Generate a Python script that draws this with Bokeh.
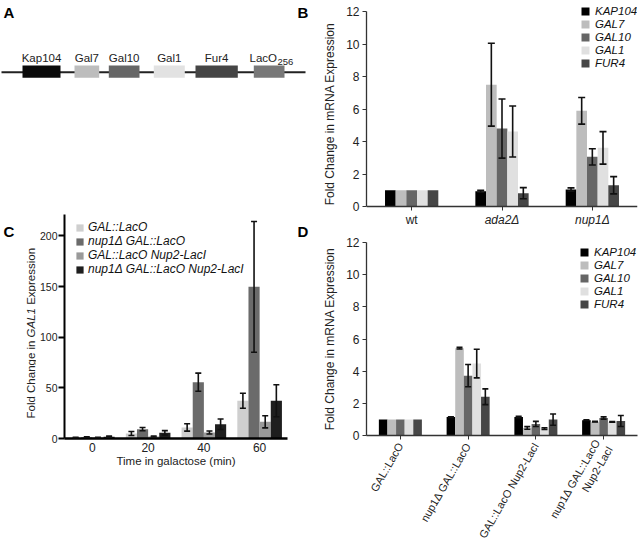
import math
from bokeh.plotting import figure
from bokeh.models import (ColumnDataSource, Whisker, TeeHead, Legend, LegendItem,
                          FixedTicker, Range1d)
from bokeh.layouts import row, column
from bokeh.embed import file_html
from bokeh.resources import INLINE
from bokeh.core.properties import value

FONT = "Liberation Sans"
INK = "#222222"

# ---------------- Panel A: gene map (arbitrary map units) ----------------
map_genes = ["Kap104", "Gal7", "Gal10", "Gal1", "Fur4"]
map_start = [22.0, 74.0, 108.3, 153.3, 195.0]
map_end = [60.0, 98.7, 139.0, 184.3, 237.3]
map_colors = ["#0a0a0a", "#bdbdbd", "#666666", "#e2e2e2", "#454545"]
laco_start = [253.3]
laco_end = [284.0]
laco_color = "#787878"
map_span = [1.0, 305.0]

# ---------------- Panel B ----------------
b_strains = ["wt", "ada2Δ", "nup1Δ"]
b_strain_italic = [False, True, True]
genes = ["KAP104", "GAL7", "GAL10", "GAL1", "FUR4"]
gene_colors = ["#000000", "#bdbdbd", "#666666", "#e0e0e0", "#464646"]
b_kap104 = [1.0, 0.94, 1.05]
b_gal7 = [1.0, 7.5, 5.89]
b_gal10 = [1.0, 4.8, 3.06]
b_gal1 = [1.0, 4.62, 3.61]
b_fur4 = [1.0, 0.82, 1.31]
b_kap104_err = [0.0, 0.06, 0.10]
b_gal7_err = [0.0, 2.55, 0.82]
b_gal10_err = [0.0, 1.82, 0.50]
b_gal1_err = [0.0, 1.57, 1.00]
b_fur4_err = [0.0, 0.34, 0.53]
b_ticks = [0, 2, 4, 6, 8, 10, 12]

# ---------------- Panel C ----------------
c_times = ["0", "20", "40", "60"]
c_strains = ["GAL::LacO", "nup1\u0394 GAL::LacO", "GAL::LacO Nup2-LacI",
             "nup1\u0394 GAL::LacO Nup2-LacI"]
c_colors = ["#cfcfcf", "#6b6b6b", "#9a9a9a", "#1e1e1e"]
c_laco = [0.8, 4.9, 10.9, 37.2]
c_nup1_laco = [1.2, 9.2, 55.6, 149.7]
c_laco_nup2 = [0.9, 2.0, 5.9, 16.5]
c_nup1_laco_nup2 = [1.8, 5.6, 14.1, 37.2]
c_laco_err = [0.3, 2.0, 3.6, 7.4]
c_nup1_laco_err = [0.4, 1.6, 8.9, 64.5]
c_laco_nup2_err = [0.3, 0.5, 1.5, 6.0]
c_nup1_laco_nup2_err = [0.5, 2.2, 5.2, 15.8]
c_ticks = [0, 50, 100, 150, 200]

# ---------------- Panel D ----------------
d_strains = ["GAL::LacO", "nup1\u0394 GAL::LacO", "GAL::LacO Nup2-LacI",
             "nup1\u0394 GAL::LacO\nNup2-LacI"]
d_kap104 = [1.0, 1.15, 1.15, 0.95]
d_gal7 = [1.0, 5.43, 0.47, 0.86]
d_gal10 = [1.0, 3.72, 0.72, 1.09]
d_gal1 = [1.0, 4.47, 0.43, 0.84]
d_fur4 = [1.0, 2.41, 0.99, 0.90]
d_kap104_err = [0.0, 0.02, 0.04, 0.02]
d_gal7_err = [0.0, 0.05, 0.08, 0.02]
d_gal10_err = [0.0, 0.69, 0.16, 0.07]
d_gal1_err = [0.0, 0.89, 0.05, 0.02]
d_fur4_err = [0.0, 0.49, 0.35, 0.34]


def style_common(p):
    p.outline_line_color = None
    p.xgrid.visible = False
    p.ygrid.visible = False
    p.background_fill_color = "white"
    p.border_fill_color = "white"


def fig(w, h, xr, yr, l, r, t, b, axes=True):
    kw = dict(width=w, height=h, x_range=xr, y_range=yr, min_border_left=l,
              min_border_right=r, min_border_top=t, min_border_bottom=b,
              output_backend="svg", toolbar_location=None, frame_align=False)
    if not axes:
        kw.update(x_axis_location=None, y_axis_location=None)
    p = figure(**kw)
    style_common(p)
    return p


def add_bars(p, n_groups, series, errs, colors, bw, cap):
    k = len(series)
    renderers = []
    for j in range(k):
        xs = [i + 0.5 + (j - (k - 1) / 2.0) * bw for i in range(n_groups)]
        src = ColumnDataSource(dict(x=xs, top=series[j]))
        r = p.vbar(x="x", top="top", width=bw, bottom=0, source=src,
                   fill_color=colors[j], line_color=None)
        renderers.append(r)
        wx, up, lo = [], [], []
        for xi, m, e in zip(xs, series[j], errs[j]):
            if e > 0:
                wx.append(xi)
                up.append(m + e)
                lo.append(m - e)
        if wx:
            wsrc = ColumnDataSource(dict(x=wx, upper=up, lower=lo))
            w = Whisker(base="x", upper="upper", lower="lower", source=wsrc,
                        dimension="height", line_color="#111111", line_width=1.6,
                        upper_head=TeeHead(size=cap, line_color="#111111", line_width=1.6),
                        lower_head=TeeHead(size=cap, line_color="#111111", line_width=1.6),
                        level="annotation")
            p.add_layout(w)
    return renderers


def make_legend(renderers, labels, loc, glyph, size, pitch, standoff, style="italic"):
    items = [LegendItem(label=l, renderers=[r]) for l, r in zip(labels, renderers)]
    lg = Legend(items=items, location=loc, orientation="vertical",
                border_line_color=None, background_fill_alpha=0,
                padding=0, margin=0, spacing=0,
                glyph_width=glyph, glyph_height=glyph, label_height=pitch,
                label_standoff=standoff, label_text_font=FONT,
                label_text_font_size=size, label_text_font_style=style,
                label_text_color="#111111", label_text_baseline="middle")
    return lg


# ======================= A (gene map) =======================
pA = fig(320, 205, Range1d(0, 320), Range1d(205, 0), 0, 0, 0, 0, axes=False)
pA.line(x=map_span, y=[71.7, 71.7], line_color=INK, line_width=2)
pA.quad(left=map_start, right=map_end, top=[65] * len(map_start), bottom=[77.3] * len(map_start),
        fill_color=map_colors, line_color=None)
pA.quad(left=laco_start, right=laco_end, top=[65], bottom=[77.3],
        fill_color=laco_color, line_color=None)
pA.text(x=[(a + b) / 2 for a, b in zip(map_start, map_end)], y=[57] * len(map_start),
        text=map_genes, text_font=value(FONT), text_font_size="11.5px",
        text_align="center", text_baseline="middle", text_color=INK)
pA.text(x=[276.5], y=[57], text=["LacO"], text_font=value(FONT), text_font_size="11.5px",
        text_align="right", text_baseline="middle", text_color=INK)
pA.text(x=[277.0], y=[61.5], text=["256"], text_font=value(FONT), text_font_size="9.5px",
        text_align="left", text_baseline="middle", text_color=INK)
pA.text(x=[3, 297], y=[3, 3], text=["A", "B"], text_font=value(FONT), text_font_size="15px",
        text_font_style="bold", text_baseline="top", text_align="left", text_color="black")

# ======================= C (with side strips for titles) =======================
pCy = fig(36, 341, Range1d(0, 36), Range1d(546, 205), 0, 0, 0, 0, axes=False)
pCy.text(x=[3], y=[222], text=["C"], text_font=value(FONT), text_font_size="15px",
         text_font_style="bold", text_baseline="top", text_align="left", text_color="black")
ylab_parts = ["Fold Change in", "GAL1", "Expression"]
ylab_styles = ["normal", "italic", "normal"]
ylab_start = [418.0, 336.9, 304.3]
for t, st, y0 in zip(ylab_parts, ylab_styles, ylab_start):
    pCy.text(x=[30], y=[y0], text=[t], angle=math.pi / 2, text_font=value(FONT),
             text_font_size="11.5px", text_font_style=st, text_align="left",
             text_baseline="middle", text_color=INK)

pCd = fig(28, 341, Range1d(292, 320), Range1d(546, 205), 0, 0, 0, 0, axes=False)
pCd.text(x=[297], y=[222], text=["D"], text_font=value(FONT), text_font_size="15px",
         text_font_style="bold", text_baseline="top", text_align="left", text_color="black")

# frame reaches above the axis top so the legend is fully inside; y axis bounded to 0..221
pC = fig(256, 341, Range1d(0, 4), Range1d(0, 230), 27, 5, 0, 108)
rC = add_bars(pC, 4, [c_laco, c_nup1_laco, c_laco_nup2, c_nup1_laco_nup2],
              [c_laco_err, c_nup1_laco_err, c_laco_nup2_err, c_nup1_laco_nup2_err],
              c_colors, 0.2, 6)
pC.yaxis.ticker = FixedTicker(ticks=c_ticks)
pC.yaxis.bounds = (0, 221.5)
pC.xaxis.ticker = FixedTicker(ticks=[0.5, 1.5, 2.5, 3.5])
pC.xaxis.major_label_overrides = {0.5 + i: t for i, t in enumerate(c_times)}
pC.xaxis.axis_label = "Time in galactose (min)"
pC.add_layout(make_legend(rC, c_strains, (11, 162), 9, "12px", 14, 4))

# ======================= B =======================
# frame extends below y=0 so that the group labels sit inside it; x axis fixed at 0
pB = fig(320, 233, Range1d(0, 3), Range1d(-1.23, 12.62), 44, 3, 1, 7)
rB = add_bars(pB, 3, [b_kap104, b_gal7, b_gal10, b_gal1, b_fur4],
              [b_kap104_err, b_gal7_err, b_gal10_err, b_gal1_err, b_fur4_err],
              gene_colors, 0.118, 7)
pB.yaxis.ticker = FixedTicker(ticks=b_ticks)
pB.yaxis.bounds = (0, 12)
pB.yaxis.axis_label = "Fold Change in mRNA Expression"
pB.xaxis.ticker = FixedTicker(ticks=[0.5, 1.5, 2.5])
pB.xaxis.major_label_overrides = {0.5: "", 1.5: "", 2.5: ""}
pB.xaxis.fixed_location = 0
for i, (s, it) in enumerate(zip(b_strains, b_strain_italic)):
    pB.text(x=[i + 0.5], y=[-0.8], text=[s], text_font=value(FONT), text_font_size="12px",
            text_font_style="italic" if it else "normal", text_align="center",
            text_baseline="middle", text_color=INK)
pB.add_layout(make_legend(rB, genes, (214, 157), 10, "11.5px", 13, 5))

# ======================= D =======================
pD = fig(320, 313, Range1d(0, 4), Range1d(0, 12), 45, 3, 9, 110)
rD = add_bars(pD, 4, [d_kap104, d_gal7, d_gal10, d_gal1, d_fur4],
              [d_kap104_err, d_gal7_err, d_gal10_err, d_gal1_err, d_fur4_err],
              gene_colors, 0.127, 6)
pD.yaxis.ticker = FixedTicker(ticks=b_ticks)
pD.yaxis.axis_label = "Fold Change in mRNA Expression"
pD.xaxis.ticker = FixedTicker(ticks=[0.5, 1.5, 2.5, 3.5])
pD.xaxis.major_label_overrides = {0.5 + i: t for i, t in enumerate(d_strains)}
pD.xaxis.major_label_orientation = math.pi / 3
pD.add_layout(make_legend(rD, genes, (213, 125), 10, "11.5px", 13, 5))

# ---- axis styling ----
for p in (pB, pD):
    for ax in (p.xaxis[0], p.yaxis[0]):
        ax.axis_line_color = "#333333"
        ax.major_tick_line_color = "#333333"
        ax.major_tick_in = 0
        ax.minor_tick_line_color = None
        ax.major_label_text_font = FONT
        ax.major_label_text_color = INK
    p.yaxis.axis_line_width = 1.3
    p.xaxis.axis_line_width = 1.6
    p.yaxis.major_tick_out = 4
    p.xaxis.major_tick_out = 4
    p.yaxis.major_label_text_font_size = "12px"
    p.yaxis.major_label_standoff = 3
    p.xaxis.major_label_standoff = 2
    p.yaxis.axis_label_text_font = FONT
    p.yaxis.axis_label_text_font_size = "12px"
    p.yaxis.axis_label_text_font_style = "normal"
    p.yaxis.axis_label_text_color = INK
    p.yaxis.axis_label_standoff = 6
pD.xaxis.major_label_text_font_size = "11px"
pD.xaxis.major_label_standoff = 4

for ax in (pC.xaxis[0], pC.yaxis[0]):
    ax.axis_line_color = "black"
    ax.major_tick_line_color = "black"
    ax.minor_tick_line_color = None
    ax.major_tick_in = 0
    ax.major_label_text_font = FONT
    ax.major_label_text_color = INK
pC.yaxis.axis_line_width = 2
pC.xaxis.axis_line_width = 2.5
pC.yaxis.major_tick_line_width = 2
pC.yaxis.major_tick_out = 6
pC.xaxis.major_tick_out = 0
pC.yaxis.major_label_text_font_size = "10.5px"
pC.yaxis.major_label_standoff = 1
pC.xaxis.major_label_text_font_size = "12px"
pC.xaxis.major_label_standoff = 4
pC.xaxis.axis_label_text_font = FONT
pC.xaxis.axis_label_text_font_size = "11.5px"
pC.xaxis.axis_label_text_font_style = "normal"
pC.xaxis.axis_label_text_color = INK
pC.xaxis.axis_label_standoff = 0

layout = row(column(pA, row(pCy, pC, pCd)), column(pB, pD))
open("out.html", "w").write(file_html(layout, INLINE))
